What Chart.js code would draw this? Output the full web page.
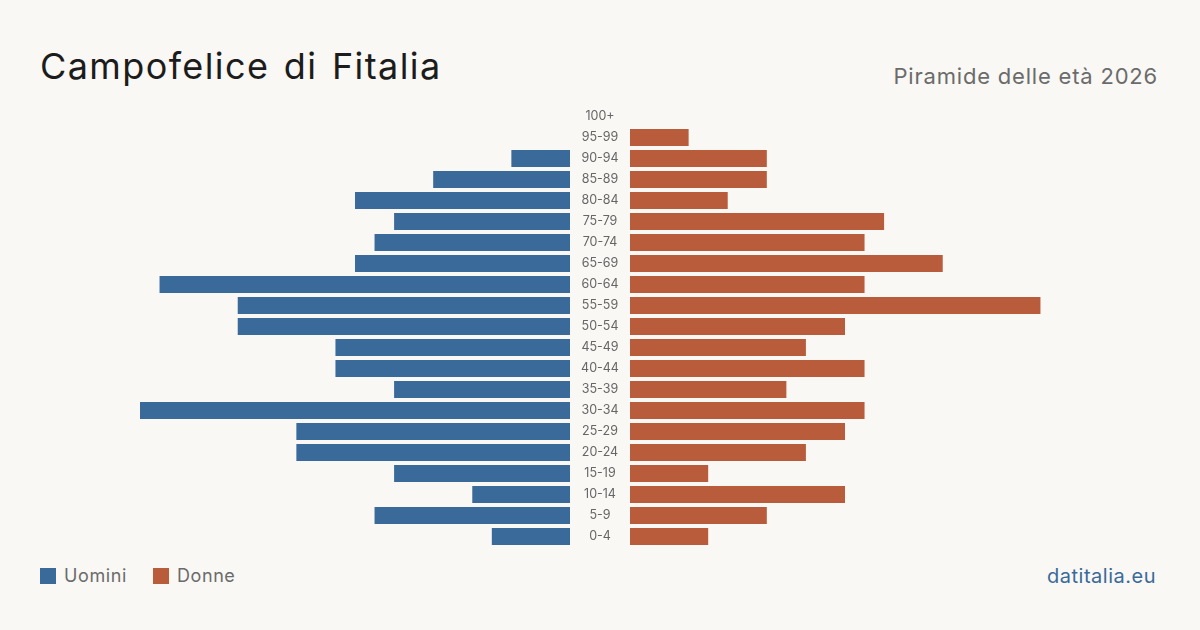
<!DOCTYPE html>
<html>
<head>
<meta charset="utf-8">
<script src="https://cdn.jsdelivr.net/npm/chart.js@4.4.1/dist/chart.umd.min.js"></script>
<style>
  html, body { margin: 0; padding: 0; }
  body { width: 1200px; height: 630px; background: #f9f8f4; position: relative; overflow: hidden; font-family: Inter, "Noto Sans", sans-serif; }
  .abs { position: absolute; white-space: nowrap; line-height: 1; }
  #title { left: 40px; top: 48px; font-size: 36px; color: #1c1c1c; letter-spacing: 1.4px; word-spacing: 3px; }
  #subtitle { right: 42px; top: 65px; font-size: 22px; color: #6b6b6b; letter-spacing: 0.8px; }
  #legend { left: 40px; top: 567px; font-size: 18px; color: #6b6b6b; display: flex; align-items: center; letter-spacing: 0.6px; }
  .sw { width: 16px; height: 16px; display: inline-block; margin-right: 8px; }
  .item { display: flex; align-items: center; margin-right: 26px; }
  #source { right: 44px; top: 566px; font-size: 20px; color: #3a6a9a; letter-spacing: 0.5px; }
  #leftWrap { position: absolute; left: 140px; top: 106px; width: 430px; height: 441px; }
  #rightWrap { position: absolute; left: 570px; top: 106px; width: 490px; height: 441px; }
</style>
</head>
<body>
<div id="title" class="abs">Campofelice di Fitalia</div>
<div id="subtitle" class="abs">Piramide delle età 2026</div>
<div id="leftWrap"><canvas id="men"></canvas></div>
<div id="rightWrap"><canvas id="women"></canvas></div>
<div id="legend" class="abs">
  <span class="item"><span class="sw" style="background:#3a6a9a"></span>Uomini</span>
  <span class="item"><span class="sw" style="background:#b85c3c"></span>Donne</span>
</div>
<div id="source" class="abs">datitalia.eu</div>
<script>
const ageGroups = ["100+","95-99","90-94","85-89","80-84","75-79","70-74","65-69","60-64","55-59","50-54","45-49","40-44","35-39","30-34","25-29","20-24","15-19","10-14","5-9","0-4"];
const men   = [0,0,3,7,11,9,10,11,21,17,17,12,12,9,22,14,14,9,5,10,4];
const women = [0,3,7,7,5,13,12,16,12,21,11,9,12,8,12,11,9,4,11,7,4];

const MEN_COLOR = "#3a6a9a";
const WOMEN_COLOR = "#b85c3c";
const maxVal = Math.max(...men, ...women);
const tickFont = { family: "Inter", size: 12.5 };

const mctx = document.createElement("canvas").getContext("2d");
mctx.font = "12.5px Inter";
const widest = Math.max(...ageGroups.map(l => mctx.measureText(l).width));

const common = {
  responsive: true,
  maintainAspectRatio: false,
  animation: false,
  indexAxis: "y",
  layout: { padding: 0 },
  plugins: { legend: { display: false }, tooltip: { enabled: false } }
};

new Chart(document.getElementById("men"), {
  type: "bar",
  data: { labels: ageGroups, datasets: [{ label: "Uomini", data: men, backgroundColor: MEN_COLOR, barPercentage: 0.8, categoryPercentage: 1 }] },
  options: Object.assign({}, common, {
    scales: {
      x: { display: false, reverse: true, min: 0, max: maxVal },
      y: { display: false }
    }
  })
});

new Chart(document.getElementById("women"), {
  type: "bar",
  data: { labels: ageGroups, datasets: [{ label: "Donne", data: women, backgroundColor: WOMEN_COLOR, barPercentage: 0.8, categoryPercentage: 1 }] },
  options: Object.assign({}, common, {
    scales: {
      x: { display: false, min: 0, max: maxVal },
      y: {
        position: "left",
        grid: { display: false, drawTicks: false },
        border: { display: false },
        ticks: { color: "#666666", font: tickFont, crossAlign: "center", padding: 30 - widest / 2, autoSkip: false },
        afterFit: s => { s.width = 60; s.paddingTop = 0; s.paddingBottom = 0; s.paddingLeft = 0; s.paddingRight = 0; }
      }
    }
  })
});
</script>
</body>
</html>
